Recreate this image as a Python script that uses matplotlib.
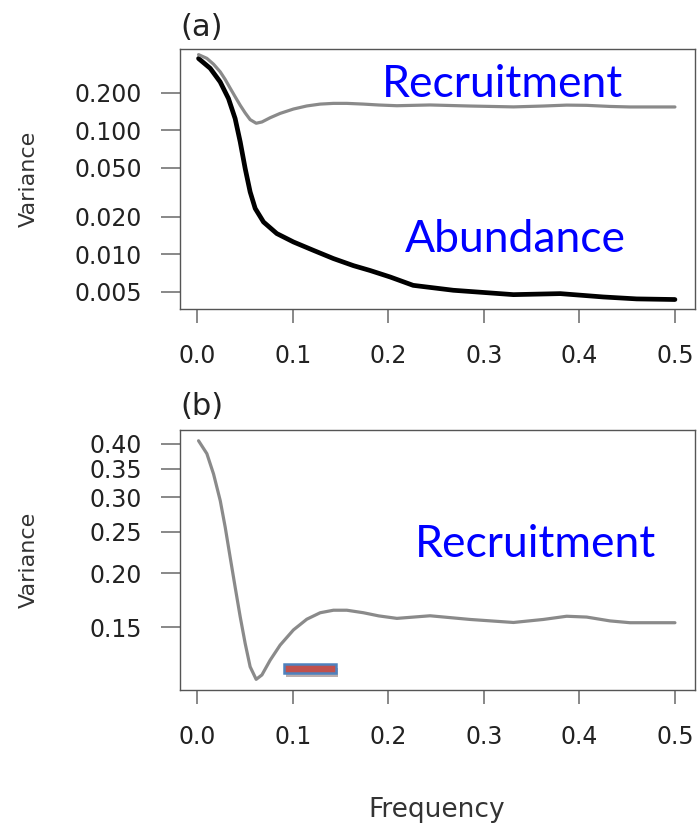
import matplotlib
matplotlib.use("Agg")
import matplotlib.pyplot as plt
from matplotlib.patches import Rectangle
import matplotlib.patheffects as pe

# spectra
freq_rec = [0.0014, 0.0101, 0.0171, 0.0241, 0.0293, 0.0345, 0.0397, 0.045, 0.0502,
            0.0554, 0.0617, 0.0677, 0.0764, 0.0868, 0.1007, 0.1147, 0.1287, 0.1426,
            0.1566, 0.174, 0.190, 0.209, 0.2437, 0.2856, 0.331, 0.3622, 0.3867,
            0.4076, 0.432, 0.453, 0.500]
var_rec = [0.406, 0.379, 0.340, 0.295, 0.256, 0.218, 0.186, 0.1587, 0.1377,
           0.1216, 0.1137, 0.1164, 0.126, 0.1365, 0.148, 0.1567, 0.1622, 0.1644,
           0.1644, 0.1622, 0.1595, 0.1574, 0.1596, 0.1565, 0.154, 0.1565, 0.1592,
           0.1585, 0.1553, 0.1538, 0.1538]

freq_abu = [0.0014, 0.0136, 0.024, 0.0327, 0.0397, 0.045, 0.0502, 0.0554, 0.0607,
            0.0694, 0.0833, 0.1007, 0.1216, 0.1425, 0.1635, 0.181, 0.202, 0.226,
            0.268, 0.331, 0.380, 0.425, 0.460, 0.500]
var_abu = [0.378, 0.315, 0.245, 0.180, 0.124, 0.0805, 0.0491, 0.0318, 0.0234,
           0.0182, 0.01469, 0.01257, 0.01076, 0.00924, 0.0081, 0.0074, 0.00656,
           0.00562, 0.00513, 0.00473, 0.00482, 0.00453, 0.00437, 0.00432]

xticks = [0.0, 0.1, 0.2, 0.3, 0.4, 0.5]
yticks_a = [0.005, 0.010, 0.020, 0.050, 0.100, 0.200]
ylabels_a = ["0.005", "0.010", "0.020", "0.050", "0.100", "0.200"]
yticks_b = [0.15, 0.20, 0.25, 0.30, 0.35, 0.40]
ylabels_b = ["0.15", "0.20", "0.25", "0.30", "0.35", "0.40"]

# highlighted band in panel (b)
band = (0.091, 0.1454, 0.1175, 0.1233)

plt.rcParams['font.family'] = ['DejaVu Sans']

fig = plt.figure(figsize=(6.98, 8.25), dpi=100)
ax1 = fig.add_axes([0.2579, 0.6255, 0.7378, 0.3147])
ax2 = fig.add_axes([0.2579, 0.1636, 0.7378, 0.3152])


def style(ax, yt, yl, ylim):
    ax.set_yscale('log')
    ax.set_xlim(-0.018, 0.521)
    ax.set_ylim(*ylim)
    ax.set_xticks(xticks)
    ax.set_xticklabels([f"{t:.1f}" for t in xticks])
    ax.set_yticks(yt)
    ax.set_yticklabels(yl)
    ax.yaxis.set_minor_locator(matplotlib.ticker.NullLocator())
    for s in ax.spines.values():
        s.set_color('#555555')
        s.set_linewidth(1.0)
    ax.tick_params(axis='x', length=10, width=1.4, color='#888888', pad=15,
                   labelsize=17, labelcolor='#222222')
    ax.tick_params(axis='y', length=13.5, width=1.4, color='#888888', pad=14,
                   labelsize=17, labelcolor='#222222')
    ax.set_ylabel('Variance', fontsize=16, color='#333333')
    ax.yaxis.set_label_coords(-0.274, 0.5)


style(ax1, yticks_a, ylabels_a, (0.003626, 0.448))
ax1.plot(freq_abu, var_abu, color='black', lw=3.4, solid_capstyle='round',
         solid_joinstyle='round')
ax1.plot(freq_rec, var_rec, color='#8a8a8a', lw=2.3, solid_capstyle='round',
         solid_joinstyle='round')
ax1.text(0.1935, 0.186, 'Recruitment', family='Lato', fontsize=32,
         color='#0000ff', va='baseline')
ax1.text(0.2176, 0.01045, 'Abundance', family='Lato', fontsize=32,
         color='#0000ff', va='baseline')
fig.text(0.259, 0.9667, '(a)', fontsize=22, color='#222222', va='center')

style(ax2, yticks_b, ylabels_b, (0.1074, 0.43))
ax2.plot(freq_rec, var_rec, color='#8a8a8a', lw=2.3, solid_capstyle='round',
         solid_joinstyle='round')
ax2.text(0.228, 0.218, 'Recruitment', family='Lato', fontsize=32,
         color='#0000ff', va='baseline')
rect = Rectangle((band[0], band[2]), band[1] - band[0], band[3] - band[2],
                 facecolor='#c0504d', edgecolor='#4f81bd', lw=1.8, zorder=5,
                 path_effects=[pe.SimplePatchShadow(offset=(1.5, -2.5), alpha=0.35),
                               pe.Normal()])
ax2.add_patch(rect)
fig.text(0.259, 0.5073, '(b)', fontsize=22, color='#222222', va='center')

fig.text(0.626, 0.018, 'Frequency', fontsize=19, color='#333333', ha='center',
         va='center')

fig.savefig('out.png', dpi=100)
